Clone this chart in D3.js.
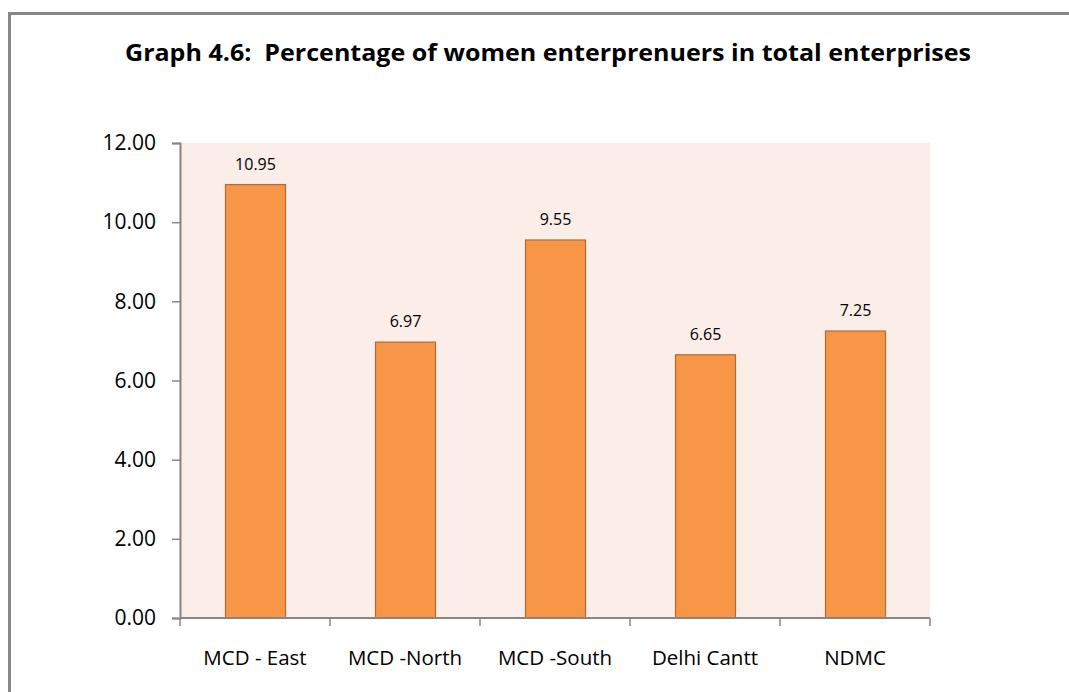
<!DOCTYPE html>
<html>
<head>
<meta charset="utf-8">
<script src="https://cdn.jsdelivr.net/npm/d3@7"></script>
<style>
  body { margin: 0; background: #ffffff; }
  svg text { font-family: "Open Sans", "DejaVu Sans", sans-serif; fill: #000; }
</style>
</head>
<body>
<script>
var categories = ["MCD - East", "MCD -North", "MCD -South", "Delhi Cantt", "NDMC"];
var values = [10.95, 6.97, 9.55, 6.65, 7.25];
var yTicks = [0, 2, 4, 6, 8, 10, 12];
var title = "Graph 4.6:  Percentage of women enterprenuers in total enterprises";

var W = 1069, H = 692;
var plotLeft = 180, plotRight = 930, plotTop = 143, plotBottom = 618;

var svg = d3.select("body")
    .append("svg")
    .attr("width", W)
    .attr("height", H);

// outer frame (runs off the right and bottom edges)
svg.append("path")
    .attr("d", "M9.5," + H + " V13.5 H" + W)
    .attr("fill", "none")
    .attr("stroke", "#888888")
    .attr("stroke-width", 3);

svg.append("text")
    .attr("x", 548)
    .attr("y", 61)
    .attr("text-anchor", "middle")
    .attr("font-size", 23)
    .attr("font-weight", "bold")
    .attr("textLength", 846)
    .attr("lengthAdjust", "spacingAndGlyphs")
    .style("white-space", "pre")
    .text(title);

var x = d3.scaleBand()
    .domain(categories)
    .range([plotLeft, plotRight])
    .paddingInner(0.6)
    .paddingOuter(0.3);

var y = d3.scaleLinear()
    .domain([0, 12])
    .range([plotBottom, plotTop]);

// plot area background
svg.append("rect")
    .attr("x", plotLeft)
    .attr("y", plotTop)
    .attr("width", plotRight - plotLeft)
    .attr("height", plotBottom - plotTop)
    .attr("fill", "#fbede8");

svg.selectAll("rect.bar")
    .data(values)
    .enter()
    .append("rect")
    .attr("class", "bar")
    .attr("x", function (d, i) { return x(categories[i]) + 0.5; })
    .attr("y", function (d) { return y(d); })
    .attr("width", x.bandwidth())
    .attr("height", function (d) { return y(0) - y(d); })
    .attr("fill", "#f79646")
    .attr("stroke", "#b66a30")
    .attr("stroke-width", 1.2);

svg.selectAll("text.lbl")
    .data(values)
    .enter()
    .append("text")
    .attr("class", "lbl")
    .attr("x", function (d, i) { return x(categories[i]) + x.bandwidth() / 2 + 0.5; })
    .attr("y", function (d) { return y(d) - 15; })
    .attr("text-anchor", "middle")
    .attr("font-size", 16)
    .text(function (d) { return d.toFixed(2); });

// y axis
var yAxis = d3.axisLeft(y)
    .tickValues(yTicks)
    .tickSize(8)
    .tickPadding(16)
    .tickFormat(d3.format(".2f"));
var gy = svg.append("g")
    .attr("transform", "translate(" + plotLeft + ",0)")
    .call(yAxis);
gy.select(".domain").attr("stroke", "#868686").attr("stroke-width", 2);
gy.selectAll(".tick line").attr("stroke", "#868686").attr("stroke-width", 1.5);
gy.selectAll(".tick text")
    .attr("font-size", 21)
    .attr("font-family", "'Open Sans', sans-serif")
    .attr("fill", "#000");

// x axis: ticks on category boundaries
var gx = svg.append("g")
    .attr("transform", "translate(0," + plotBottom + ")");
gx.append("line")
    .attr("x1", plotLeft)
    .attr("x2", plotRight)
    .attr("stroke", "#868686")
    .attr("stroke-width", 2);
var bounds = d3.range(categories.length + 1).map(function (i) {
    return plotLeft + i * (plotRight - plotLeft) / categories.length;
});
gx.selectAll("line.tk")
    .data(bounds)
    .enter()
    .append("line")
    .attr("class", "tk")
    .attr("x1", function (d) { return d; })
    .attr("x2", function (d) { return d; })
    .attr("y1", 0)
    .attr("y2", 8)
    .attr("stroke", "#868686")
    .attr("stroke-width", 1.5);
gx.selectAll("text")
    .data(categories)
    .enter()
    .append("text")
    .attr("x", function (d) { return x(d) + x.bandwidth() / 2; })
    .attr("y", 47)
    .attr("text-anchor", "middle")
    .attr("font-size", 20.5)
    .text(function (d) { return d; });
</script>
</body>
</html>
